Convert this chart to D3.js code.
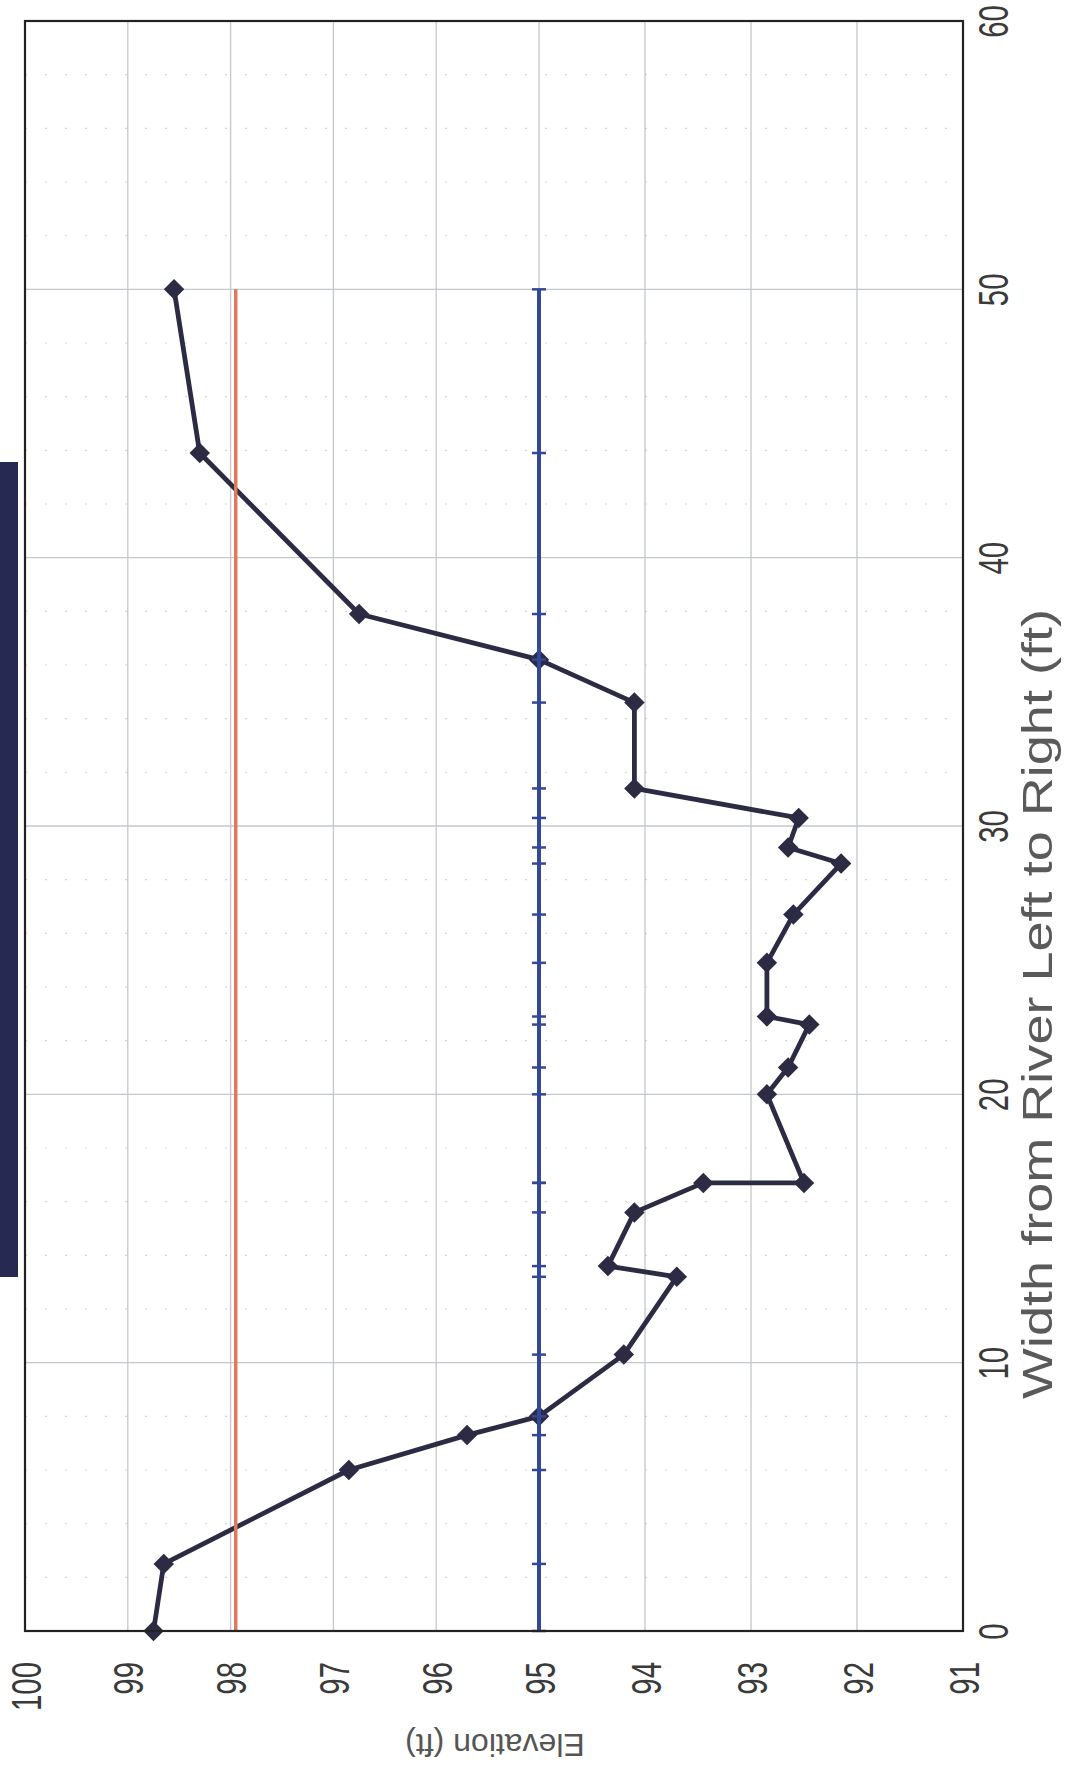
<!DOCTYPE html>
<meta charset="utf-8">
<head>
  <title>Cross section (rotated)</title>
</head>

<style>
body {
  margin: 0;
  background: #fff;
  font-family: "Liberation Sans", Arial, sans-serif;
}
</style>

<body>
  <div id="content"></div>

  <script src="https://cdnjs.cloudflare.com/ajax/libs/d3/7.8.5/d3.min.js"></script>

  <script>
var stationWidth = [0, 2.5, 6.0, 7.3, 8.0, 10.3, 13.2, 13.6, 15.6, 16.7, 16.7, 20.0, 21.0,
  22.6, 22.9, 24.9, 26.7, 28.6, 29.2, 30.3, 31.4, 34.6, 36.2, 37.9, 43.9, 50.0];
var bedElev = [98.75, 98.65, 96.85, 95.7, 95.0, 94.2, 93.7, 94.35, 94.1, 93.45, 92.5, 92.85, 92.65,
  92.45, 92.85, 92.85, 92.6, 92.15, 92.65, 92.55, 94.1, 94.1, 95.0, 96.75, 98.3, 98.55];

var waterElev = 95.0;      // blue line, one marker per station
var bankfullElev = 97.95;  // orange line
var bankfullWidth = [0, 50];

var elevTicks = [100, 99, 98, 97, 96, 95, 94, 93, 92, 91];
var widthTicks = [0, 10, 20, 30, 40, 50, 60];
var minorWidth = [2, 4, 6, 8, 12, 14, 16, 18, 22, 24, 26, 28, 32, 34, 36, 38, 42, 44, 46, 48, 52, 54, 56, 58];

var W = 1070, H = 1765;
var pl = 25, pr = 963, pt = 21, pb = 1631;
var labelFont = '"Liberation Sans", Arial, sans-serif';
var squeeze = 0.7;   // tick digits on the scan are tall and narrow

var svg = d3.select('#content').append('svg')
  .attr('width', W)
  .attr('height', H);

svg.append('rect').attr('width', W).attr('height', H).attr('fill', '#fff');

// the page is scanned sideways: elevation runs left->right (high to low), width runs bottom->top.
// the scan is slightly uneven, so the elevation scale gets a middle stop at 95
var x = d3.scaleLinear().domain([100, 95, 91]).range([pl, 539, pr]);
var y = d3.scaleLinear().domain([0, 60]).range([pb, pt]);

// binding strip on the scan
svg.append('rect')
  .attr('x', 0).attr('y', 462)
  .attr('width', 18).attr('height', 815)
  .attr('fill', '#262a52');

// grid
var grid = svg.append('g');
grid.selectAll('.minor').data(minorWidth).enter().append('line')
  .attr('x1', pl).attr('x2', pr)
  .attr('y1', d => y(d)).attr('y2', d => y(d))
  .attr('stroke', '#d2d5d9').attr('stroke-width', 1.2)
  .attr('stroke-dasharray', '2,18');
grid.selectAll('.vg').data(elevTicks.slice(1, -1)).enter().append('line')
  .attr('x1', d => x(d)).attr('x2', d => x(d))
  .attr('y1', pt).attr('y2', pb)
  .attr('stroke', '#c3c8cd').attr('stroke-width', 1.3);
grid.selectAll('.hg').data(widthTicks.slice(1, -1)).enter().append('line')
  .attr('x1', pl).attr('x2', pr)
  .attr('y1', d => y(d)).attr('y2', d => y(d))
  .attr('stroke', '#c3c8cd').attr('stroke-width', 1.3);

// bed profile
var line = d3.line()
  .x((d, i) => x(bedElev[i]))
  .y(d => y(d));

svg.append('path')
  .datum(stationWidth)
  .attr('d', line)
  .attr('fill', 'none')
  .attr('stroke', '#2b2c44')
  .attr('stroke-width', 4.8)
  .attr('stroke-linejoin', 'round');

var diamond = d3.symbol().type(d3.symbolSquare).size(210);
svg.selectAll('.pt').data(stationWidth).enter().append('path')
  .attr('d', diamond)
  .attr('transform', (d, i) => 'translate(' + x(bedElev[i]) + ',' + y(d) + ') rotate(45)')
  .attr('fill', '#2b2c44');

// bankfull line
svg.append('line')
  .attr('x1', x(bankfullElev)).attr('x2', x(bankfullElev))
  .attr('y1', y(bankfullWidth[0])).attr('y2', y(bankfullWidth[1]))
  .attr('stroke', '#e07a5f').attr('stroke-width', 3.5);

// water surface with dash markers
svg.append('line')
  .attr('x1', x(waterElev)).attr('x2', x(waterElev))
  .attr('y1', y(d3.min(stationWidth))).attr('y2', y(d3.max(stationWidth)))
  .attr('stroke', '#34489a').attr('stroke-width', 4);
svg.selectAll('.ws').data(stationWidth).enter().append('line')
  .attr('x1', x(waterElev) - 7).attr('x2', x(waterElev) + 7)
  .attr('y1', d => y(d)).attr('y2', d => y(d))
  .attr('stroke', '#34489a').attr('stroke-width', 2.5);

// frame
svg.append('rect')
  .attr('x', pl).attr('y', pt)
  .attr('width', pr - pl).attr('height', pb - pt)
  .attr('fill', 'none').attr('stroke', '#222').attr('stroke-width', 2.2);

// elevation labels, below the frame, reading upward
var ax = svg.append('g')
  .attr('transform', 'translate(0,' + pb + ')')
  .call(d3.axisBottom(x).tickValues(elevTicks).tickSize(0).tickFormat(d3.format('d')));
ax.select('.domain').remove();
ax.selectAll('text')
  .attr('transform', 'rotate(-90) scale(' + squeeze + ',1)')
  .attr('x', -31 / squeeze).attr('y', 15).attr('dy', null)
  .style('text-anchor', 'end')
  .attr('font-size', 42)
  .attr('font-family', labelFont)
  .attr('fill', '#3a3a3a');

// width labels, right of the frame
var ay = svg.append('g')
  .attr('transform', 'translate(' + pr + ',0)')
  .call(d3.axisRight(y).tickValues(widthTicks).tickSize(0));
ay.select('.domain').remove();
ay.selectAll('text')
  .attr('transform', 'rotate(-90) scale(' + squeeze + ',1)')
  .attr('x', 0).attr('y', 45).attr('dy', null)
  .style('text-anchor', 'middle')
  .attr('font-size', 42)
  .attr('font-family', labelFont)
  .attr('fill', '#3a3a3a');

// axis titles
svg.append('text')
  .attr('transform', 'translate(1052,1004) rotate(-90)')
  .attr('text-anchor', 'middle')
  .attr('font-size', 43)
  .attr('textLength', 790)
  .attr('lengthAdjust', 'spacingAndGlyphs')
  .attr('font-family', labelFont)
  .attr('fill', '#5a5a5a')
  .text('Width from River Left to Right (ft)');

svg.append('text')
  .attr('transform', 'translate(495,1734) rotate(180)')
  .attr('text-anchor', 'middle')
  .attr('font-size', 32)
  .attr('font-family', labelFont)
  .attr('fill', '#555')
  .text('Elevation (ft)');
  </script>
</body>
</html>
